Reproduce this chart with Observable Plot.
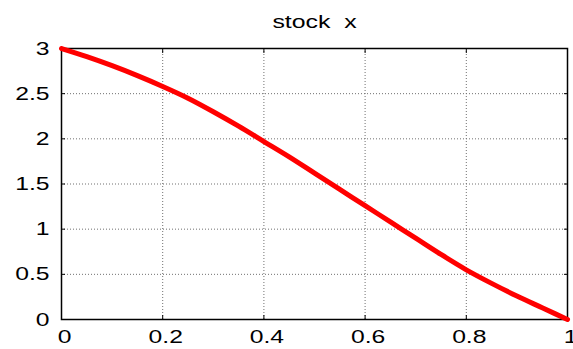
<!DOCTYPE html>
<html><head><meta charset="utf-8">
<script src="https://cdn.jsdelivr.net/npm/d3@7"></script>
<script src="https://cdn.jsdelivr.net/npm/@observablehq/plot@0.6"></script>
<style>body{margin:0;background:#fff} svg{display:block}</style>
</head><body><div id="chart"></div>
<script>
const title = "stock\u00a0\u00a0x";
const xValues = [0, 0.05, 0.1, 0.15, 0.2, 0.25, 0.3, 0.35, 0.4, 0.45, 0.5, 0.55, 0.6, 0.65, 0.7, 0.75, 0.8, 0.85, 0.9, 0.95, 1.0];
const yValues = [3.00, 2.91, 2.81, 2.70, 2.58, 2.45, 2.30, 2.14, 1.97, 1.80, 1.62, 1.44, 1.26, 1.08, 0.90, 0.72, 0.55, 0.40, 0.26, 0.13, 0.00];
const xTicks = [0, 0.2, 0.4, 0.6, 0.8, 1];
const yTicks = [0, 0.5, 1, 1.5, 2, 2.5, 3];

const data = xValues.map((x, i) => ({x, y: yValues[i]}));
const fmt = d => String(d);
const blank = () => "";

const chart = Plot.plot({
  width: 573, height: 349,
  marginLeft: 61, marginRight: 6, marginTop: 48, marginBottom: 30,
  style: {fontFamily: "'Liberation Sans', Arial, sans-serif", fontSize: "19px", background: "#fff", color: "#000"},
  x: {domain: [0, 1]},
  y: {domain: [0, 3]},
  marks: [
    Plot.gridX(xTicks, {stroke: "#707070", strokeOpacity: 1, strokeDasharray: "1,2"}),
    Plot.gridY(yTicks, {stroke: "#707070", strokeOpacity: 1, strokeDasharray: "1,2"}),
    Plot.axisX(xTicks, {anchor: "bottom", label: null, tickSize: 0, tickPadding: 10, tickFormat: fmt, dx: 3, fontSize: 19}),
    Plot.axisY(yTicks, {anchor: "left", label: null, tickSize: 0, tickPadding: 12, tickFormat: fmt, fontSize: 19}),
    Plot.axisX(xTicks, {anchor: "bottom", label: null, tickSize: -4, tickFormat: blank}),
    Plot.axisX(xTicks, {anchor: "top", label: null, tickSize: -4, tickFormat: blank}),
    Plot.axisY(yTicks, {anchor: "left", label: null, tickSize: -4, tickFormat: blank}),
    Plot.axisY(yTicks, {anchor: "right", label: null, tickSize: -4, tickFormat: blank}),
    Plot.frame({stroke: "#000", strokeWidth: 1.5}),
    Plot.line(data, {x: "x", y: "y", stroke: "#ff0000", strokeWidth: 5, curve: "monotone-x"}),
    Plot.text([title], {frameAnchor: "top", dy: -33, fontSize: 18})
  ]
});
document.getElementById("chart").append(chart);

// the reference glyphs are horizontally wider than Liberation Sans: stretch them
d3.select(chart).selectAll("text").each(function () {
  const len = this.getComputedTextLength();
  if (!len) return;
  const isTitle = this.textContent.includes("stock");
  this.setAttribute("textLength", len * (isTitle ? 1.38 : 1.3));
  this.setAttribute("lengthAdjust", "spacingAndGlyphs");
});
</script>
</body></html>
